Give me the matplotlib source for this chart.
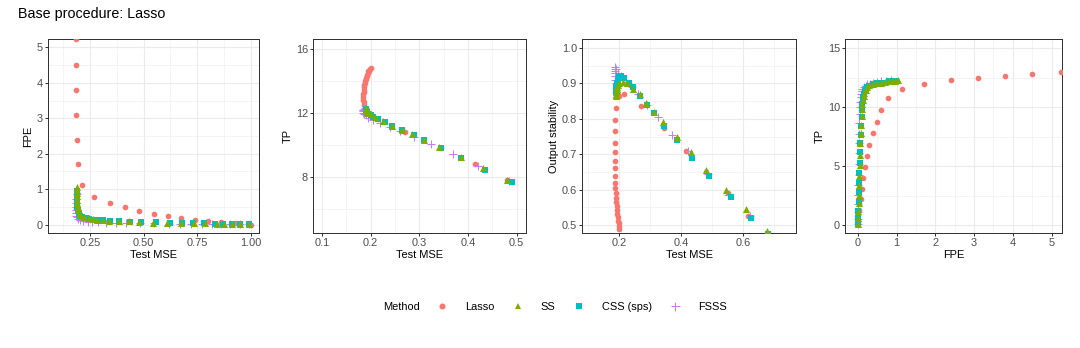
import matplotlib
matplotlib.use("Agg")
import matplotlib.pyplot as plt
from matplotlib.ticker import FixedLocator

plt.rcParams['font.family'] = ['Liberation Sans', 'DejaVu Sans']

methods = ['Lasso', 'SS', 'CSS (sps)', 'FSSS']
colors = ['#F8766D', '#7CAE00', '#00BFC4', '#C77CFF']
markers = ['o', '^', 's', '+']
zorders = [3, 6, 5, 4]

# Lasso path (sparse -> dense)
mse_lasso = [1.0, 0.93, 0.86, 0.8, 0.74, 0.675, 0.615, 0.55, 0.48, 0.415, 0.345, 0.27, 0.215, 0.197,
             0.19, 0.187, 0.186, 0.185, 0.185, 0.185, 0.186, 0.186, 0.187, 0.187, 0.188, 0.189, 0.19,
             0.191, 0.192, 0.193, 0.194, 0.195, 0.197, 0.199, 0.2]
fpe_lasso = [0.0, 0.04, 0.07, 0.1, 0.14, 0.19, 0.25, 0.3, 0.38, 0.49, 0.6, 0.77, 1.13, 1.72, 2.4, 3.1,
             3.8, 4.5, 5.25, 6.0, 6.8, 7.6, 8.5, 9.4, 10.3, 11.2, 12.2, 13.2, 14.2, 15.3, 16.4, 17.5,
             18.7, 19.9, 21.0]
tp_lasso = [0.3, 1.3, 2.2, 3.05, 4.0, 4.95, 5.85, 6.85, 7.8, 8.8, 9.8, 10.8, 11.6, 12.0, 12.3, 12.5,
            12.65, 12.8, 13.0, 13.15, 13.3, 13.45, 13.6, 13.75, 13.9, 14.0, 14.1, 14.2, 14.3, 14.4,
            14.5, 14.6, 14.65, 14.72, 14.8]
stab_lasso = [0.2, 0.28, 0.34, 0.39, 0.43, 0.465, 0.525, 0.59, 0.65, 0.71, 0.775, 0.835, 0.87, 0.865,
              0.83, 0.797, 0.765, 0.733, 0.705, 0.682, 0.66, 0.64, 0.62, 0.605, 0.59, 0.577, 0.565,
              0.553, 0.542, 0.532, 0.522, 0.513, 0.505, 0.497, 0.49]

# SS
mse_ss = [0.99, 0.95, 0.91, 0.875, 0.84, 0.785, 0.735, 0.675, 0.61, 0.545, 0.48, 0.43, 0.385, 0.34,
          0.31, 0.285, 0.265, 0.245, 0.225, 0.21, 0.2, 0.195, 0.193, 0.192, 0.191, 0.19, 0.19, 0.19, 0.19]
fpe_ss = [0.005, 0.01, 0.015, 0.02, 0.025, 0.03, 0.035, 0.045, 0.05, 0.055, 0.07, 0.09, 0.1, 0.11,
          0.12, 0.13, 0.15, 0.17, 0.2, 0.25, 0.3, 0.4, 0.5, 0.6, 0.7, 0.8, 0.9, 0.97, 1.05]
tp_ss = [0.1, 0.6, 1.2, 1.9, 2.6, 3.4, 4.2, 5.1, 6.0, 7.0, 7.8, 8.55, 9.25, 9.85, 10.3, 10.65, 10.95,
         11.2, 11.5, 11.75, 11.9, 12.0, 12.05, 12.1, 12.15, 12.2, 12.22, 12.25, 12.3]
stab_ss = [0.25, 0.3, 0.34, 0.37, 0.4, 0.43, 0.45, 0.485, 0.545, 0.6, 0.655, 0.705, 0.75, 0.79, 0.82,
           0.845, 0.87, 0.885, 0.9, 0.905, 0.9, 0.895, 0.89, 0.885, 0.88, 0.875, 0.87, 0.868, 0.865]

# CSS (sps)
mse_css = [0.99, 0.95, 0.91, 0.87, 0.83, 0.78, 0.73, 0.68, 0.625, 0.56, 0.49, 0.435, 0.385, 0.345,
           0.31, 0.29, 0.265, 0.245, 0.23, 0.215, 0.205, 0.2, 0.195, 0.192, 0.19, 0.19, 0.19]
fpe_css = [0.005, 0.01, 0.015, 0.02, 0.025, 0.03, 0.04, 0.045, 0.05, 0.06, 0.07, 0.08, 0.1, 0.11,
           0.12, 0.13, 0.14, 0.16, 0.18, 0.21, 0.25, 0.3, 0.4, 0.5, 0.65, 0.8, 0.95]
tp_css = [0.1, 0.6, 1.2, 2.0, 2.8, 3.6, 4.4, 5.3, 6.2, 7.0, 7.65, 8.45, 9.15, 9.8, 10.3, 10.6, 10.9,
          11.15, 11.4, 11.6, 11.75, 11.85, 11.95, 12.05, 12.1, 12.2, 12.25]
stab_css = [0.25, 0.3, 0.34, 0.37, 0.4, 0.43, 0.46, 0.475, 0.52, 0.58, 0.64, 0.69, 0.74, 0.78, 0.815,
            0.84, 0.865, 0.89, 0.9, 0.915, 0.92, 0.92, 0.91, 0.9, 0.89, 0.88, 0.875]

# FSSS
mse_fsss = [0.99, 0.95, 0.9, 0.86, 0.82, 0.77, 0.72, 0.67, 0.62, 0.55, 0.485, 0.42, 0.37, 0.325, 0.29,
            0.26, 0.24, 0.22, 0.205, 0.195, 0.19, 0.187, 0.185, 0.184, 0.184, 0.185, 0.186, 0.188]
fpe_fsss = [0.003, 0.005, 0.008, 0.01, 0.012, 0.015, 0.02, 0.022, 0.025, 0.03, 0.035, 0.04, 0.045,
            0.05, 0.06, 0.07, 0.08, 0.1, 0.12, 0.15, 0.2, 0.25, 0.32, 0.4, 0.5, 0.6, 0.72, 0.85]
tp_fsss = [0.1, 0.5, 1.1, 1.8, 2.6, 3.4, 4.3, 5.2, 6.1, 7.0, 7.75, 8.65, 9.45, 10.05, 10.5, 10.85,
           11.1, 11.35, 11.55, 11.7, 11.85, 11.95, 12.0, 12.1, 12.15, 12.2, 12.25, 12.3]
stab_fsss = [0.25, 0.3, 0.34, 0.37, 0.4, 0.43, 0.45, 0.47, 0.525, 0.585, 0.645, 0.71, 0.755, 0.805,
             0.84, 0.87, 0.89, 0.905, 0.92, 0.93, 0.94, 0.945, 0.94, 0.935, 0.93, 0.92, 0.91, 0.9]

data = {
    'Lasso': dict(mse=mse_lasso, fpe=fpe_lasso, tp=tp_lasso, stab=stab_lasso),
    'SS': dict(mse=mse_ss, fpe=fpe_ss, tp=tp_ss, stab=stab_ss),
    'CSS (sps)': dict(mse=mse_css, fpe=fpe_css, tp=tp_css, stab=stab_css),
    'FSSS': dict(mse=mse_fsss, fpe=fpe_fsss, tp=tp_fsss, stab=stab_fsss),
}

W, H = 1080, 348
fig = plt.figure(figsize=(W / 72, H / 72), dpi=72)

# (x var, y var, x label, y label, xlim, ylim, xmajor, xminor, ymajor, yminor, panel px left/right)
panels = [
    ('mse', 'fpe', 'Test MSE', 'FPE', (0.053, 1.037), (-0.24, 5.24),
     [0.25, 0.5, 0.75, 1.0], [0.125, 0.375, 0.625, 0.875], [0, 1, 2, 3, 4, 5], [0.5, 1.5, 2.5, 3.5, 4.5],
     47.5, 259, ['0.25', '0.50', '0.75', '1.00'], None),
    ('mse', 'tp', 'Test MSE', 'TP', (0.082, 0.519), (4.49, 16.62),
     [0.1, 0.2, 0.3, 0.4, 0.5], [0.15, 0.25, 0.35, 0.45], [8, 12, 16], [6, 10, 14],
     313, 526, None, None),
    ('mse', 'stab', 'Test MSE', 'Output stability', (0.08, 0.77), (0.478, 1.025),
     [0.2, 0.4, 0.6], [0.1, 0.3, 0.5, 0.7], [0.5, 0.6, 0.7, 0.8, 0.9, 1.0], [0.55, 0.65, 0.75, 0.85, 0.95],
     582.3, 796, None, ['0.5', '0.6', '0.7', '0.8', '0.9', '1.0']),
    ('fpe', 'tp', 'FPE', 'TP', (-0.33, 5.27), (-0.65, 15.8),
     [0, 1, 2, 3, 4, 5], [0.5, 1.5, 2.5, 3.5, 4.5], [0, 5, 10, 15], [2.5, 7.5, 12.5],
     845, 1062, None, None),
]

top_px, bot_px = 39, 233
grid_c = '#EBEBEB'
for (xv, yv, xl, yl, xlim, ylim, xmaj, xmin_, ymaj, ymin_, lpx, rpx, xtl, ytl) in panels:
    ax = fig.add_axes([lpx / W, (H - bot_px) / H, (rpx - lpx) / W, (bot_px - top_px) / H])
    ax.set_xlim(*xlim)
    ax.set_ylim(*ylim)
    ax.xaxis.set_major_locator(FixedLocator(xmaj))
    ax.xaxis.set_minor_locator(FixedLocator(xmin_))
    ax.yaxis.set_major_locator(FixedLocator(ymaj))
    ax.yaxis.set_minor_locator(FixedLocator(ymin_))
    if xtl:
        ax.set_xticklabels(xtl)
    if ytl:
        ax.set_yticklabels(ytl)
    ax.grid(which='major', color=grid_c, lw=1.1, zorder=0)
    ax.grid(which='minor', color=grid_c, lw=0.55, zorder=0)
    ax.set_axisbelow(True)
    for s in ax.spines.values():
        s.set_color('#333333')
        s.set_linewidth(1.0)
    ax.tick_params(which='major', length=3, width=1, color='#333333', labelsize=11,
                   labelcolor='#4D4D4D', pad=2)
    ax.tick_params(which='minor', length=0)
    ax.set_xlabel(xl, fontsize=11, labelpad=2)
    ax.set_ylabel(yl, fontsize=11, labelpad=3)
    for m, c, mk, z in zip(methods, colors, markers, zorders):
        d = data[m]
        if mk == '+':
            ax.scatter(d[xv], d[yv], marker='+', s=65, c=c, linewidths=1.0, zorder=z)
        elif mk == '^':
            ax.scatter(d[xv], d[yv], marker='^', s=50, c=c, linewidths=0, zorder=z)
        elif mk == 's':
            ax.scatter(d[xv], d[yv], marker='s', s=30, c=c, linewidths=0, zorder=z)
        else:
            ax.scatter(d[xv], d[yv], marker='o', s=32, c=c, linewidths=0, zorder=z)

fig.text(18 / W, 1 - 14 / H, 'Base procedure: Lasso', fontsize=14.3, va='center', ha='left')

# legend
fig.text(383 / W, (H - 307) / H, 'Method', fontsize=11, va='center', ha='left')
handles = []
for m, c, mk in zip(methods, colors, markers):
    if mk == '+':
        h = plt.Line2D([], [], ls='', marker='+', ms=9, mew=1.0, color=c)
    elif mk == '^':
        h = plt.Line2D([], [], ls='', marker='^', ms=6.5, mew=0, color=c)
    elif mk == 's':
        h = plt.Line2D([], [], ls='', marker='s', ms=5.5, mew=0, color=c)
    else:
        h = plt.Line2D([], [], ls='', marker='o', ms=6, mew=0, color=c)
    handles.append(h)
fig.legend(handles, methods, loc='center left', bbox_to_anchor=(431 / W, (H - 307) / H), ncol=4,
           frameon=False, fontsize=11, handlelength=2, handletextpad=1.1, columnspacing=1.1,
           borderpad=0, borderaxespad=0)

fig.savefig('out.png', dpi=72)
